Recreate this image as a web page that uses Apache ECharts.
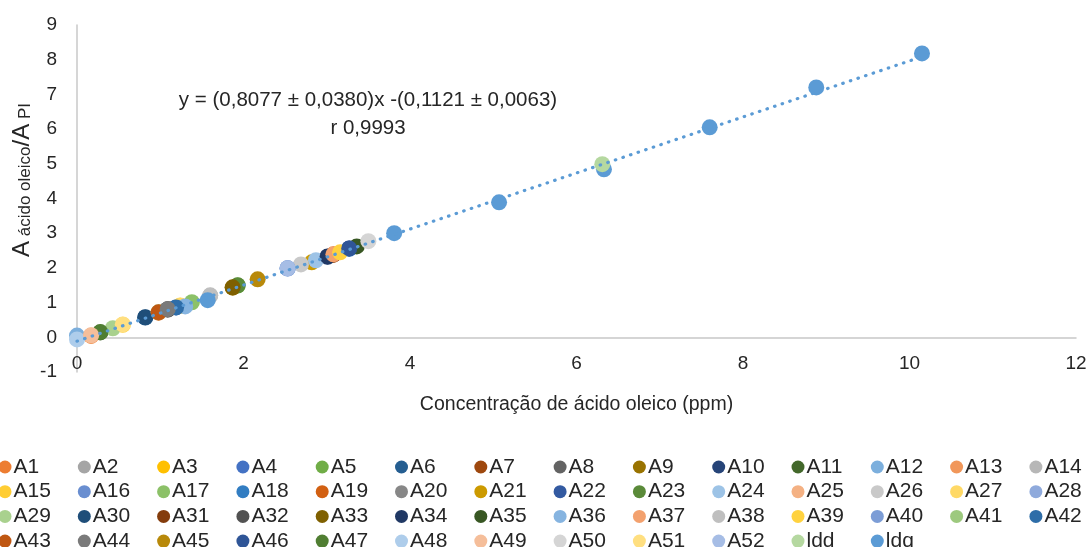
<!DOCTYPE html>
<html><head><meta charset="utf-8">
<script src="https://cdn.jsdelivr.net/npm/echarts@6/dist/echarts.min.js"></script>
<style>html,body{margin:0;padding:0;background:#fff}#c{width:1090px;height:547px}</style>
</head><body><div id="c"></div>
<script>
const FONT = '"Liberation Sans Narrow","Liberation Sans",sans-serif';
const sampleNames = [];
for (let i = 1; i <= 52; i++) sampleNames.push('A' + i);
const sampleX = [0.17,1.09,1.24,1.19,1.93,0.82,3.08,1.09,1.87,3.01,0.28,0.00,3.08,1.60,0.55,2.53,1.38,3.27,0.98,1.09,2.82,3.27,1.93,2.87,0.17,2.69,1.24,2.53,0.43,0.82,3.08,1.09,1.87,3.01,3.36,1.30,3.08,1.60,3.16,2.53,0.98,1.19,0.98,1.09,2.17,3.27,0.28,0.00,0.17,3.50,0.55,2.53];
const sampleY = [0.04,0.80,0.91,0.86,1.49,0.57,2.38,0.81,1.43,2.32,0.14,0.05,2.39,1.20,0.36,1.98,1.01,2.55,0.71,0.81,2.16,2.56,1.50,2.22,0.05,2.10,0.92,1.99,0.26,0.58,2.38,0.80,1.44,2.33,2.62,0.89,2.39,1.21,2.45,1.99,0.72,0.86,0.72,0.81,1.67,2.56,0.15,-0.06,0.06,2.77,0.37,1.99];
const lddX = [6.31];
const lddY = [4.99];
const ldqX = [1.57, 3.81, 5.07, 6.33, 7.60, 8.88, 10.15];
const ldqY = [1.07, 3.00, 3.89, 4.84, 6.05, 7.20, 8.18];
const slope = 0.8077, intercept = -0.1121;
const trendX = [0, 10.15];
const xTickLabels = ['0','2','4','6','8','10','12'];
const yTickLabels = ['-1','0','1','2','3','4','5','6','7','8','9'];

const palette = ['#ED7D31','#A5A5A5','#FFC000','#4472C4','#70AD47','#255E91','#9E480E','#636363','#997300','#264478','#43682B','#7CAFDD','#F1975A','#B7B7B7','#FFCD33','#698ED0','#8CC168','#327DC2','#D26012','#878787','#CC9A00','#335AA1','#5A8A39','#9DC3E6','#F4B183','#C9C9C9','#FFD966','#8FAADC','#A9D18E','#1F4E79','#843C0C','#525252','#7F6000','#203864','#385723','#86B4E0','#F3A16E','#BFBFBF','#FFD23F','#7C9DD6','#9DC97E','#2E6DA8','#BF5712','#7A7A7A','#B8890A','#2F5597','#507E32','#AECDEB','#F5BE9A','#D5D5D5','#FFDF80','#A6BDE5'];
const lddColor = '#B5D8A0', ldqColor = '#5B9BD5';

const series = [];
sampleNames.forEach((n, i) => {
  series.push({name: n, type: 'scatter', symbolSize: 16, itemStyle: {color: palette[i], opacity: 1},
    data: [[sampleX[i], sampleY[i]]], emphasis: {disabled: true}});
});
series.push({name: 'ldq', type: 'scatter', symbolSize: 16, itemStyle: {color: ldqColor, opacity: 1},
  data: ldqX.map((x, i) => [x, ldqY[i]]), emphasis: {disabled: true}});
series.push({name: 'ldd', type: 'scatter', symbolSize: 16, itemStyle: {color: lddColor, opacity: 1},
  data: lddX.map((x, i) => [x, lddY[i]]), emphasis: {disabled: true}});
series.push({name: 'trend', type: 'line', z: 5, symbol: 'none', silent: true,
  lineStyle: {color: ldqColor, width: 3.2, type: [0.5, 7.5], cap: 'round'},
  data: trendX.map(x => [x, slope * x + intercept])});

const allNames = sampleNames.concat(['ldd', 'ldq']);
const colorOf = n => n === 'ldd' ? lddColor : (n === 'ldq' ? ldqColor : palette[+n.slice(1) - 1]);
const legends = allNames.map((n, k) => {
  const r = Math.floor(k / 14), c = k % 14;
  return {
    data: [{name: n, itemStyle: {color: colorOf(n)}}],
    left: -1.5 + c * 79.3, top: 456.5 + r * 24.7, orient: 'horizontal', padding: 0,
    icon: 'circle', itemWidth: 13, itemHeight: 13, selectedMode: false,
    textStyle: {fontFamily: FONT, fontSize: 21, color: '#262626', padding: [0, 0, 0, -3]}
  };
});

const chart = echarts.init(document.getElementById('c'));
chart.setOption({
  animation: false,
  grid: {left: 77, right: 14, top: 25, bottom: 175, containLabel: false},
  legend: legends,
  xAxis: {type: 'value', min: 0, max: 12, interval: 2,
    axisLine: {show: true, onZero: true, lineStyle: {color: '#C8C8C8', width: 1.5}},
    axisTick: {show: false}, splitLine: {show: false},
    axisLabel: {margin: -18, fontFamily: FONT, fontSize: 19, color: '#262626',
      formatter: (v) => xTickLabels[Math.round(v / 2)]},
    name: 'Concentração de ácido oleico (ppm)', nameLocation: 'middle', nameGap: 23,
    nameTextStyle: {fontFamily: FONT, fontSize: 19.5, color: '#262626'}},
  yAxis: {type: 'value', min: -1, max: 9, interval: 1,
    axisLine: {show: true, lineStyle: {color: '#C8C8C8', width: 1.5}},
    axisTick: {show: false}, splitLine: {show: false},
    axisLabel: {margin: 20, fontFamily: FONT, fontSize: 19, color: '#262626',
      formatter: (v) => yTickLabels[Math.round(v + 1)]}},
  graphic: [
    {type: 'text', x: 368, y: 114, style: {text: 'y = (0,8077 ± 0,0380)x -(0,1121 ± 0,0063)\nr 0,9993',
      fontFamily: FONT, fontSize: 20.5, lineHeight: 28, fill: '#262626', align: 'center', verticalAlign: 'middle'}},
    {type: 'text', x: 20, y: 180, rotation: Math.PI / 2,
      style: {text: '{a|A}{s| ácido oleico}{a|/A}{s| PI}', align: 'center', verticalAlign: 'middle',
        fill: '#262626',
        rich: {a: {fontFamily: FONT, fontSize: 24, lineHeight: 28, verticalAlign: 'bottom', fill: '#262626'},
               s: {fontFamily: FONT, fontSize: 17, lineHeight: 22, verticalAlign: 'bottom', fill: '#262626'}}}}
  ],
  series: series
});
</script></body></html>
